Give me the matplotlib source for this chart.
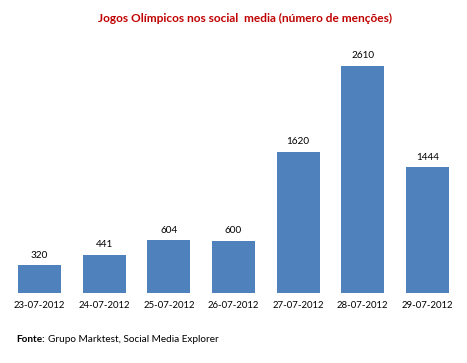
import matplotlib
matplotlib.use('Agg')
import matplotlib.pyplot as plt

dates = ['23-07-2012', '24-07-2012', '25-07-2012', '26-07-2012',
         '27-07-2012', '28-07-2012', '29-07-2012']
mentions = [320, 441, 604, 600, 1620, 2610, 1444]

plt.rcParams['font.family'] = ['Lato', 'DejaVu Sans']

fig = plt.figure(figsize=(4.67, 3.63), dpi=100)
ax = fig.add_axes([0.0154, 0.193, 0.9692, 0.719])

x = range(len(dates))
bars = ax.bar(x, mentions, width=0.665, color='#4F81BD')
for xi, v in zip(x, mentions):
    ax.annotate(str(v), (xi, v), xytext=(0, 4), textcoords='offset points',
                ha='center', va='bottom', fontsize=7.2, color='black')

ax.set_xlim(-0.5, len(dates) - 0.5)
ax.set_ylim(0, 3000)
ax.set_xticks(list(x))
ax.set_xticklabels(dates, fontsize=6.9)
ax.tick_params(axis='x', length=0, pad=6)
ax.set_yticks([])
for s in ax.spines.values():
    s.set_visible(False)

fig.text(0.525, 0.95, 'Jogos Olímpicos nos social  media (número de menções)',
         ha='center', va='center', fontsize=8.6, fontweight='bold', color='#C00000')
fig.text(0.034, 0.065, 'Fonte:', ha='left', va='center', fontsize=7.2, fontweight='bold')
fig.text(0.103, 0.065, 'Grupo Marktest, Social Media Explorer', ha='left', va='center', fontsize=7.2)

fig.savefig('out.png', dpi=100)
